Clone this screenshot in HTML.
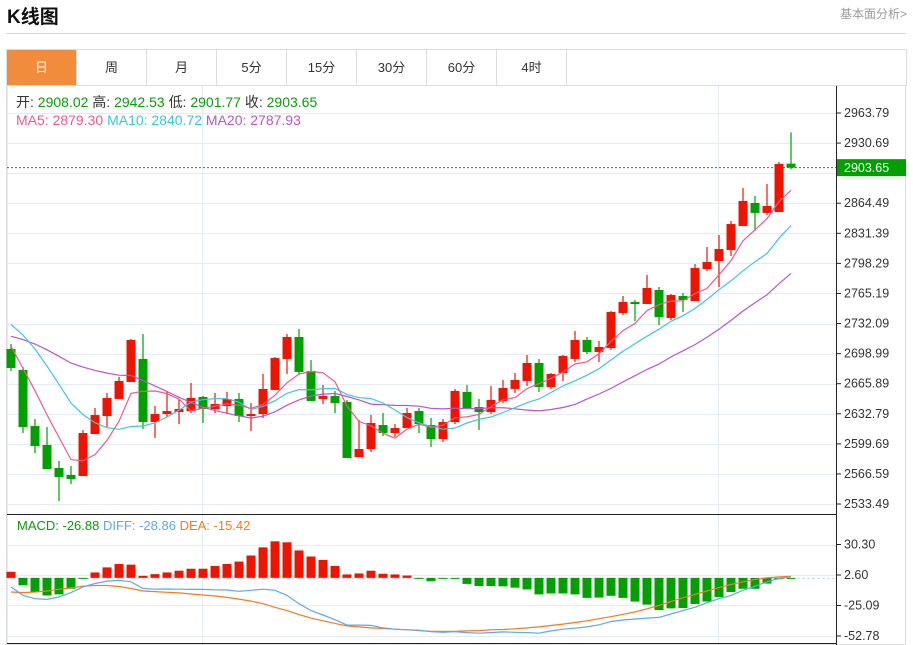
<!DOCTYPE html>
<html><head><meta charset="utf-8"><style>
body{margin:0;background:#fff;width:913px;height:645px;overflow:hidden;font-family:"Liberation Sans","Noto Sans CJK SC",sans-serif;}
#title{position:absolute;left:7px;top:2px;font-size:19px;font-weight:bold;color:#111;}
#more{position:absolute;right:6px;top:5px;font-size:12px;color:#999;}
#hr{position:absolute;left:6px;top:33px;width:900px;height:1px;background:#d5d5d5;}
#tabs{position:absolute;left:6px;top:49px;width:899px;height:36px;border:1px solid #ddd;border-bottom:none;display:flex;}
.tab{width:69px;border-right:1px solid #ddd;text-align:center;line-height:36px;font-size:13px;color:#333;}
.tab.on{background:#f08c3c;color:#fff;}
svg{position:absolute;left:0;top:0;}
</style></head><body>
<div id="title">K线图</div>
<div id="more">基本面分析&gt;</div>
<div id="hr"></div>
<div id="tabs">
<div class="tab on">日</div>
<div class="tab">周</div>
<div class="tab">月</div>
<div class="tab">5分</div>
<div class="tab">15分</div>
<div class="tab">30分</div>
<div class="tab">60分</div>
<div class="tab">4时</div>
</div>
<svg id="c" width="913" height="645"></svg>
<script>
const opens=[2704.1,2681.0,2619.3,2598.4,2573.1,2565.4,2564.3,2610.5,2630.3,2649.1,2667.8,2693.1,2623.7,2632.5,2634.7,2635.8,2651.3,2638.0,2641.3,2649.1,2630.3,2632.5,2659.0,2693.1,2717.3,2679.9,2649.1,2652.4,2645.8,2585.2,2594.0,2620.4,2611.6,2617.1,2635.8,2620.4,2605.0,2623.7,2656.8,2640.2,2634.7,2646.9,2660.1,2668.9,2688.7,2662.3,2677.7,2693.1,2714.0,2700.8,2705.2,2743.7,2755.8,2753.6,2769.0,2738.2,2762.4,2756.9,2792.1,2800.9,2813.0,2839.4,2864.8,2853.8,2854.8,2908.02];
const highs=[2709.6,2684.3,2627.0,2618.2,2580.8,2575.3,2614.9,2639.1,2655.7,2673.3,2715.1,2720.6,2641.3,2657.9,2649.1,2666.7,2652.4,2655.7,2656.8,2655.7,2644.6,2676.6,2695.3,2720.6,2726.1,2692.0,2664.5,2657.9,2648.0,2625.9,2631.4,2633.6,2621.5,2639.1,2639.1,2628.1,2627.0,2660.1,2664.5,2649.1,2663.4,2670.0,2677.7,2697.5,2693.1,2677.7,2697.5,2723.9,2717.3,2712.9,2745.9,2762.4,2758.0,2785.5,2772.3,2764.6,2765.7,2797.6,2816.3,2829.6,2845.0,2881.3,2872.5,2885.7,2909.9,2942.53];
const lows=[2679.9,2611.6,2589.6,2572.0,2536.8,2555.5,2564.3,2610.5,2618.2,2649.1,2667.8,2616.0,2606.1,2629.2,2621.5,2633.6,2622.6,2633.6,2632.5,2623.7,2613.8,2628.1,2659.0,2676.6,2675.5,2646.9,2643.5,2633.6,2584.1,2585.2,2590.7,2608.3,2607.4,2617.1,2611.6,2596.2,2601.7,2621.5,2638.0,2614.9,2632.5,2644.6,2655.7,2663.4,2656.8,2660.1,2668.9,2689.8,2698.6,2689.8,2703.0,2741.5,2734.9,2753.6,2730.5,2736.0,2744.8,2756.9,2789.9,2772.3,2806.4,2839.4,2834.0,2851.6,2854.8,2901.77];
const closes=[2683.2,2618.2,2597.3,2572.0,2563.2,2561.0,2611.6,2631.4,2650.2,2668.9,2714.0,2623.7,2632.5,2635.8,2638.0,2650.2,2638.0,2643.5,2649.1,2630.3,2632.5,2660.1,2694.2,2717.3,2678.8,2646.9,2652.4,2644.6,2584.1,2594.0,2622.6,2611.6,2617.1,2633.6,2621.5,2605.0,2623.7,2657.9,2639.1,2634.7,2648.0,2661.2,2670.0,2688.7,2662.3,2676.6,2696.4,2714.0,2700.8,2706.3,2744.8,2755.8,2753.6,2771.2,2739.3,2763.5,2758.0,2793.2,2799.8,2814.1,2841.6,2867.0,2853.8,2861.5,2907.7,2903.65];
const priorCloses=[2690,2695,2700,2705,2710,2700,2705,2710,2715,2720,2735,2750,2760,2765,2765,2740,2720,2705,2687];
const macdHist=[5.5,-6.8,-12.9,-16,-15,-9.9,-0.5,4.9,9.5,12.6,12,1.8,3.4,4.9,6.5,8.3,8.3,10.8,12.6,14.8,20.3,27.7,33.2,32.3,24.9,19.4,16.3,10.8,3.1,4,6.5,3.7,3.1,2.1,-0.5,-3.1,-0.8,-0.8,-5.5,-7.4,-7.4,-7.7,-8.9,-10.5,-15,-14.2,-14.2,-15,-18.2,-17.9,-16.3,-18.2,-21.5,-24.3,-29.2,-27.7,-27.4,-23.7,-21.5,-17.5,-12.9,-9.9,-9.9,-5.2,-1.2,-0.3];
const diffLine=[-8.2,-15.9,-18.9,-19.6,-17.4,-13.4,-8.2,-5.1,-2.9,-2.3,-3.6,-9.7,-10.3,-10.1,-10.3,-10.5,-10.5,-10.8,-11,-12.2,-11.3,-10.3,-11.3,-15.9,-23.5,-29.7,-33.7,-38,-42.9,-42.9,-43.2,-45.4,-46.6,-47.2,-47.5,-48.8,-49.4,-48.8,-49.7,-50.3,-49.7,-49.1,-49.4,-49.7,-50.3,-48.2,-46.6,-45.7,-44.5,-42.6,-39.6,-38.3,-37.4,-36.5,-35.9,-32.8,-29.7,-26.7,-22.6,-18.9,-15.9,-11.3,-7.6,-3.6,-0.5,1.0];
const deaLine=[-12.8,-13.4,-12.8,-11.9,-10.3,-9.1,-7.6,-6.9,-6.9,-7.8,-9.7,-11.9,-12.5,-13.1,-13.7,-14.7,-15.6,-16.5,-17.7,-19.3,-21.1,-23.5,-26.7,-29.7,-33.4,-36.5,-39,-41.4,-43.6,-44.5,-45.4,-46,-46.6,-47.2,-47.9,-48.5,-48.5,-48.5,-48.2,-47.9,-47.2,-46.9,-46.3,-45.4,-44.5,-43.3,-42,-40.5,-39,-37.1,-35.3,-33.1,-30.9,-28.1,-25.1,-21.4,-18,-15,-11.9,-8.8,-6,-3.6,-1.4,0.1,1.0,1.3];
const priceTicks=[2963.79,2930.69,2864.49,2831.39,2798.29,2765.19,2732.09,2698.99,2665.89,2632.79,2599.69,2566.59,2533.49];
const macdTicks=[30.30,2.60,-25.09,-52.78];
const lastPrice=2903.65;

const NS='http://www.w3.org/2000/svg';
const svg=document.getElementById('c');
function mk(t,a,parent){const e=document.createElementNS(NS,t);for(const k in a)e.setAttribute(k,a[k]);(parent||svg).appendChild(e);return e;}
const xOf=i=>11+i*12;
const yP=p=>504-(p-2533.49)*(391/430.3);
const yM=v=>575-(v-2.6)*(30.5/27.7);
const GREEN='#00a000',RED='#f01400';
let e=mk('rect',{x:6.5,y:85.5,width:899,height:559,fill:'none',stroke:'#ddd'});


priceTicks.concat([2897.59]).forEach(t=>{mk('line',{x1:7,x2:836,y1:Math.round(yP(t))+.5,y2:Math.round(yP(t))+.5,stroke:'#e3ebf3'});});
macdTicks.forEach(t=>{mk('line',{x1:7,x2:836,y1:Math.round(yM(t))+.5,y2:Math.round(yM(t))+.5,stroke:'#e3ebf3'});});
[7.5,202.5,718.5].forEach(x=>{mk('line',{x1:x,x2:x,y1:86,y2:644,stroke:'#e3ebf3'});});
mk('line',{x1:836.5,x2:836.5,y1:86,y2:645,stroke:'#222'});
mk('line',{x1:7,x2:837,y1:514.5,y2:514.5,stroke:'#222'});
mk('line',{x1:7,x2:837,y1:643.5,y2:643.5,stroke:'#222'});
const ax=mk('g',{'font-size':12.5,fill:'#333'});


priceTicks.forEach(t=>{const y=yP(t);mk('line',{x1:836,x2:841,y1:y,y2:y,stroke:'#222'},ax);const tx=mk('text',{x:844,y:y+4},ax);tx.textContent=t.toFixed(2);});
const mx=mk('g',{'font-size':12.5,fill:'#333'});


macdTicks.forEach(t=>{const y=yM(t);mk('line',{x1:836,x2:841,y1:y,y2:y,stroke:'#222'},mx);const tx=mk('text',{x:844,y:y+4},mx);tx.textContent=t.toFixed(2);});
const ly=yP(lastPrice);
mk('line',{x1:7,x2:836,y1:ly,y2:ly,stroke:GREEN,'stroke-dasharray':'2,2'});
mk('rect',{x:837,y:ly-8.5,width:69,height:17,fill:GREEN});
e=mk('text',{x:844,y:ly+4.5,'font-size':12.5,fill:'#fff'});e.textContent=lastPrice.toFixed(2);


mk('line',{x1:7,x2:836,y1:yM(0)+.5,y2:yM(0)+.5,stroke:'#bde0f5','stroke-dasharray':'3,2'});
const cg=mk('g',{});


for(let i=0;i<opens.length;i++){
 const up=closes[i]>=opens[i],col=up?RED:GREEN,x=xOf(i);
 const g=mk('g',{},cg);
 
 
 mk('line',{x1:x,x2:x,y1:yP(highs[i]),y2:yP(lows[i]),stroke:col,'stroke-width':1.2},g);
 const t=yP(Math.max(opens[i],closes[i])),b=yP(Math.min(opens[i],closes[i]));
 mk('rect',{x:x-4.5,y:t,width:9,height:Math.max(1.5,b-t),fill:col},g);
}
const all=priorCloses.concat(closes);
function ma(n){const r=[];for(let i=0;i<closes.length;i++){const j=i+priorCloses.length;let s=0;for(let k=j-n+1;k<=j;k++)s+=all[k];r.push(s/n);}return r;}
function poly(vals,yf,col,name){const p=mk('polyline',{points:vals.map((v,i)=>xOf(i)+','+yf(v).toFixed(1)).join(' '),fill:'none',stroke:col,'stroke-width':1.2});
 
 }
poly(ma(20),yP,'#b856c8','ma20-line');
poly(ma(10),yP,'#3fc6dc','ma10-line');
poly(ma(5),yP,'#ec5a8a','ma5-line');
const hg=mk('g',{});


macdHist.forEach((v,i)=>{const y0=yM(0),y1=yM(v);const r=mk('rect',{x:xOf(i)-4.5,y:Math.min(y0,y1),width:9,height:Math.max(1,Math.abs(y1-y0)),fill:v>=0?RED:GREEN},hg);
 
 });
poly(deaLine,yM,'#f57a20','dea-line');
poly(diffLine,yM,'#5ea8ec','diff-line');
function legend(x,y,parts,name,fs){const t=mk('text',{x:x,y:y,'font-size':fs});
 parts.forEach(([s,c])=>{const sp=mk('tspan',{fill:c},t);sp.textContent=s;});}
legend(16,107,[['开: ','#333'],['2908.02   ','#0a9b0a'],['高: ','#333'],['2942.53   ','#0a9b0a'],['低: ','#333'],['2901.77   ','#0a9b0a'],['收: ','#333'],['2903.65','#0a9b0a']],'ohlc-legend',14);
legend(16,125,[['MA5:  2879.30    ','#ec5a8a'],['MA10:  2840.72    ','#3fc6dc'],['MA20:  2787.93','#b856c8']],'ma-legend',14);
legend(17,530,[['MACD: -26.88   ','#0a9b0a'],['DIFF: -28.86   ','#5ea8ec'],['DEA: -15.42','#f57a20']],'macd-legend',13);
document.querySelectorAll('#c text').forEach(t=>t.setAttribute('xml:space','preserve'));
</script>
</body></html>
